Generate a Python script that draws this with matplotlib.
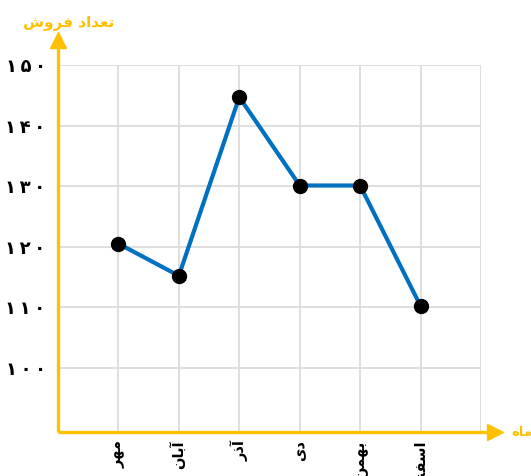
import matplotlib
matplotlib.use("Agg")
import matplotlib.pyplot as plt

months = ["مهر", "آبان", "آذر", "دی", "بهمن", "اسفند"]
sales = [120.5, 115.2, 144.7, 130.1, 130.1, 110.2]
y_ticks = [100, 110, 120, 130, 140, 150]
y_label = "تعداد فروش"
x_label = "ماه"

# --- minimal Arabic/Persian shaping (presentation forms) ---
FORMS = {  # isolated, final, initial, medial (None -> right-joining only)
    "ا": ("\uFE8D", "\uFE8E", None, None),
    "آ": ("\uFE81", "\uFE82", None, None),
    "ب": ("\uFE8F", "\uFE90", "\uFE91", "\uFE92"),
    "ت": ("\uFE95", "\uFE96", "\uFE97", "\uFE98"),
    "د": ("\uFEA9", "\uFEAA", None, None),
    "ذ": ("\uFEAB", "\uFEAC", None, None),
    "ر": ("\uFEAD", "\uFEAE", None, None),
    "س": ("\uFEB1", "\uFEB2", "\uFEB3", "\uFEB4"),
    "ش": ("\uFEB5", "\uFEB6", "\uFEB7", "\uFEB8"),
    "ع": ("\uFEC9", "\uFECA", "\uFECB", "\uFECC"),
    "ف": ("\uFED1", "\uFED2", "\uFED3", "\uFED4"),
    "م": ("\uFEE1", "\uFEE2", "\uFEE3", "\uFEE4"),
    "ن": ("\uFEE5", "\uFEE6", "\uFEE7", "\uFEE8"),
    "ه": ("\uFEE9", "\uFEEA", "\uFEEB", "\uFEEC"),
    "و": ("\uFEED", "\uFEEE", None, None),
    "ی": ("\uFEEF", "\uFEF0", "\uFEF3", "\uFEF4"),
}


def shape(text):
    out = []
    n = len(text)
    for i, ch in enumerate(text):
        if ch not in FORMS:
            out.append(ch)
            continue
        iso, fin, ini, med = FORMS[ch]
        prev = text[i - 1] if i > 0 else None
        nxt = text[i + 1] if i < n - 1 else None
        join_prev = prev in FORMS and FORMS[prev][2] is not None
        join_next = nxt in FORMS and ini is not None
        if join_prev and join_next:
            out.append(med)
        elif join_prev:
            out.append(fin)
        elif join_next:
            out.append(ini)
        else:
            out.append(iso)
    return "".join(reversed(out))


def fa_digits(v):
    return "\u2009".join(str(v).translate(str.maketrans("0123456789", "۰۱۲۳۴۵۶۷۸۹")))


ORANGE = "#FFC000"
BLUE = "#0070C0"
GRID = "#D9D9D9"
FONT = ["DejaVu Sans"]

fig = plt.figure(figsize=(5.31, 4.76), dpi=100)
ax = fig.add_axes([58 / 531, 1 - 432 / 476, 423 / 531, 367 / 476])

x = list(range(1, len(months) + 1))
ax.plot(x, sales, color=BLUE, lw=3, marker="o", markersize=10,
        markerfacecolor="black", markeredgecolor="black", zorder=3)

ax.set_xlim(0, len(months) + 1)
ax.set_ylim(89.4, 150)
ax.set_xticks(list(range(1, len(months) + 2)))
ax.set_xticklabels([shape(m) for m in months] + [""], rotation=90,
                   fontsize=10.5, fontweight="bold", family=FONT, va="top")
ax.set_yticks(y_ticks)
ax.set_yticklabels([fa_digits(v) for v in y_ticks], fontsize=13,
                   fontweight="bold", family=FONT)
ax.tick_params(axis="both", length=0)
ax.tick_params(axis="y", pad=9)
ax.tick_params(axis="x", pad=6)
ax.grid(True, color=GRID, lw=1.2, zorder=0)
for sp in ax.spines.values():
    sp.set_visible(False)

# orange axes with arrow heads
ax.plot([0, 1.032], [0, 0], color=ORANGE, lw=2.4, transform=ax.transAxes,
        clip_on=False, zorder=4, solid_capstyle="butt")
ax.plot([1.032], [0], marker=">", markersize=12, color=ORANGE,
        transform=ax.transAxes, clip_on=False, zorder=4)
ax.plot([0, 0], [0, 1.067], color=ORANGE, lw=2.4, transform=ax.transAxes,
        clip_on=False, zorder=4, solid_capstyle="butt")
ax.plot([0], [1.067], marker="^", markersize=12, color=ORANGE,
        transform=ax.transAxes, clip_on=False, zorder=4)

ax.text(1.071, 0, shape(x_label), transform=ax.transAxes, color=ORANGE,
        fontsize=9.5, fontweight="bold", family=FONT, ha="left", va="center")
fig.text(69 / 531, 1 - 22 / 476, shape(y_label), color=ORANGE, fontsize=11,
         fontweight="bold", family=FONT, ha="center", va="center")

fig.savefig("out.png", dpi=100)
